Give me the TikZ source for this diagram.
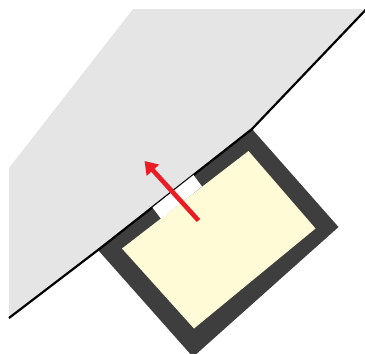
\documentclass[tikz,border=0pt]{standalone}
\usetikzlibrary{arrows.meta}
\definecolor{groundgray}{HTML}{E5E5E5}
\definecolor{wallgray}{HTML}{3E3E3E}
\definecolor{roomyellow}{HTML}{FFFBD6}
\definecolor{arrowred}{HTML}{EC1C24}
\tikzset{
  edgeline/.style={black, line width=2.2pt, line join=round},
  flowarrow/.style={arrowred, line width=4.6pt, -{Triangle[length=12.5pt,width=16pt]}}
}
\begin{document}
\begin{tikzpicture}[x=1pt,y=-1pt]
\useasboundingbox (0,0) rectangle (365,354);
\clip (0,0) rectangle (365,354);
% ground area
\fill[groundgray] (9,168) -- (133,9) -- (366,9) -- (366,10) -- (252,129) -- (98,250) -- (9,318) -- cycle;
% building walls
\fill[wallgray] (252,129) -- (338.5,227) -- (193,357) -- (98,250) -- cycle;
% room interior
\fill[roomyellow] (248.5,151) -- (315.5,228.5) -- (194,328.5) -- (122,248.5) -- cycle;
% boundary line
\draw[edgeline] (366,9.5) -- (252,129) -- (98,250) -- (9,318);
% window opening
\fill[white] (152.5,207.5) -- (193.5,175) -- (202,186.5) -- (161,218.8) -- cycle;
% arrow
\coordinate (tail) at (198.5,220.5);
\coordinate (tip) at (144.5,161);
\draw[flowarrow] (tail) -- (tip);
\end{tikzpicture}
\end{document}
